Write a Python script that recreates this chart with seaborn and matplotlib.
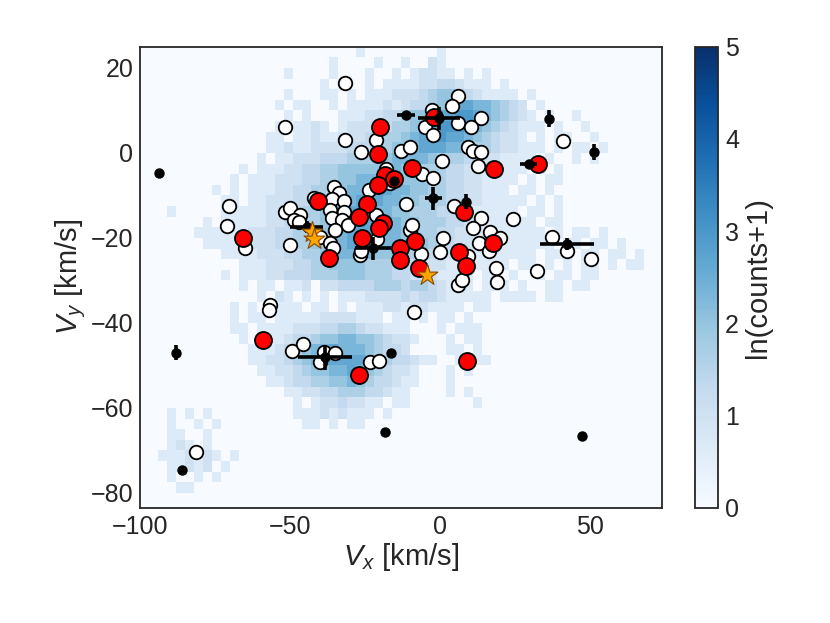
import matplotlib
matplotlib.use("Agg")
import matplotlib.pyplot as plt
import numpy as np
import pandas as pd
import seaborn as sns

# background density: one entry per row of bins (top row vy 22.5..25, 2.5 km/s tall),
# each segment = (first column, digits); column c covers vx -100+3c .. -97+3c
# digit d -> ln(counts+1) = d * level_step, "." = empty
level_step = 0.33
n_cols = 58
hist_rows = [
    [(24, "2"), (33, "2")],
    [(21, "2"), (26, "2"), (29, "2"), (32, "32")],
    [(16, "2"), (21, "2"), (25, "2"), (28, "2.23322.2.2")],
    [(20, "2.2"), (25, "2.22"), (29, "2233443222.2")],
    [(16, "2"), (20, "22.2"), (25, "22233"), (30, "345665432222"), (43, "2")],
    [(15, "2.22"), (21, "2.22"), (25, "223234456788776543"), (44, "2")],
    [(16, "2.2"), (22, "2223344566788998765432.2"), (48, "2")],
    [(15, "2.2232"), (22, "23334455678999876543222.2"), (49, "2")],
    [(14, "22.2232"), (21, "2333445567889887654332"), (44, "2.22"), (50, "2")],
    [(14, "2232233"), (21, "3344455667888776554332"), (43, "22.2.22.2")],
    [(13, "2.2233344"), (22, "455566777765554433222"), (43, "2.2..2.2")],
    [(11, "2.22233445"), (21, "566666776655544332222"), (42, "2.2.2")],
    [(10, "2.2223334455"), (22, "667777766655443322"), (40, "22.2.22")],
    [(8, "2.2.22233445566"), (23, "77788776655443322"), (40, "2.22.2")],
    [(9, "22.22333445667"), (23, "78887766555443322"), (40, "222.2.2")],
    [(3, "2"), (9, "2222233445567"), (22, "788877665554433222"), (40, "22.22.2")],
    [(7, "2.222223344556"), (21, "7889887766555443322"), (40, "2222.22")],
    [(6, "22222233344556"), (20, "67788877766554433222"), (40, "22222.2.22.2")],
    [(7, "2222233344556"), (20, "67788877766654433322"), (40, "222222.22.22.2")],
    [(9, "22223334455"), (20, "667777666555443322"), (38, "222222.222.22.22.2")],
    [(11, "22233344"), (19, "556666555444333222"), (37, "2222.22.2.2.22.2.22")],
    [(9, "2.2223344"), (18, "45556665554433322"), (35, "22.22.2..2.22.22")],
    [(11, "2.22.223"), (20, "33444455545543222"), (38, "222.2..22.22")],
    [(13, "2.32.2.2"), (22, "2223333434432222"), (38, "2.2222.22")],
    [(10, "2.2.2222.22"), (22, "2.222332332222.22")],
    [(10, "2.22.2222233"), (22, "33222.22.2.22.2")],
    [(10, "22.2222333445"), (23, "5433222"), (33, "2.222")],
    [(11, "2.2223445667"), (23, "76654332"), (34, "2.22")],
    [(12, "22234567787"), (23, "7765443"), (34, "22.2")],
    [(12, "2233456788"), (22, "88876544322"), (35, "2.22")],
    [(13, "223345667"), (22, "787654332"), (34, "2.2")],
    [(14, "22344556"), (22, "676544322"), (34, "2")],
    [(16, "2233445"), (23, "5544322"), (34, "2.2")],
    [(17, "2.233433"), (25, "22.22"), (37, "2")],
    [(3, "2.2"), (7, "2"), (17, "2223232"), (24, "22.2")],
    [(3, "2"), (6, "2.2"), (18, "22.2.22")],
    [(3, "22"), (7, "2")],
    [(3, "232"), (7, "2")],
    [(2, "2223232.2")],
    [(3, "22323"), (9, "2")],
    [(3, "2"), (6, "2.2")],
    [(4, "22")],
    [],
    [],
]

white_vx = [-31.7, -51.7, -31.7, -26.3, -21.4, -13.0, -10.0, -23.9, -18.0, -16.7,
            -70.4, -71.2, -65.0, -51.7, -50.0, -46.7, -48.9, -47.2, -42.2, -35.4,
            -33.6, -36.1, -32.2, -36.9, -32.2, -36.1, -32.8, -35.0, -30.6, -40.0,
            -50.0, -36.8, -35.6, -21.4, -21.1, -26.6, -26.3, 0.6, -6.1, -2.3,
            -11.3, -10.0, -9.3, 0.8, -0.2, -6.5, 5.8, 3.9, -2.8, 13.6,
            5.8, 10.3, -5.0, -2.6, 9.2, 10.9, 13.7, 12.4, 40.8, 4.4,
            13.7, 24.1, 10.8, 16.4, 20.0, 12.9, 9.1, 16.1, 18.7, 32.2,
            37.1, 42.2, 50.3, 5.8, 7.2, 18.9, -8.7, -56.7, -57.2, -49.4,
            -45.6, -38.9, -35.0, -40.0, -23.6, -20.6, -81.4]
white_vy = [16.4, 6.0, 3.1, 0.3, 3.1, 0.5, 1.5, -8.8, -3.8, -7.0,
            -12.4, -17.3, -22.4, -13.8, -13.0, -14.6, -15.7, -16.2, -10.7, -8.0,
            -9.5, -10.9, -11.4, -13.4, -13.8, -15.4, -15.8, -18.1, -16.9, -19.7,
            -21.7, -21.3, -22.3, -14.6, -20.3, -24.0, -23.0, -2.0, -5.0, -5.9,
            -12.1, -18.1, -16.9, -20.1, -23.3, -23.7, 13.5, 11.1, 10.1, 8.2,
            7.0, 6.2, 6.2, 4.2, 1.3, 0.5, 0.2, -3.0, 2.7, -12.4,
            -15.2, -15.5, -17.6, -18.5, -20.1, -21.1, -24.2, -23.1, -27.0, -27.7,
            -19.8, -23.1, -24.9, -31.1, -29.9, -30.3, -37.4, -35.8, -36.9, -46.6,
            -44.9, -46.8, -47.1, -49.1, -49.1, -48.9, -70.3]

red_vx = [-20.0, -20.8, -18.6, -15.3, -20.9, -24.5, -40.6, -27.1, -19.2, -20.6,
          -26.1, -65.9, -37.2, -13.3, -13.5, -9.6, -8.3, -7.1, -2.2, 32.4,
          17.8, 7.8, 6.3, 8.7, 17.6, 8.9, -59.2, -27.2]
red_vy = [6.0, -0.3, -5.2, -6.2, -7.5, -12.1, -11.3, -15.0, -16.5, -17.6,
          -20.0, -20.0, -24.8, -22.4, -25.1, -3.5, -20.8, -27.0, 8.5, -2.6,
          -3.8, -13.8, -23.2, -26.7, -21.1, -48.9, -44.0, -52.2]

black_vx = [-93.9, -15.3, -44.5, -22.3, -2.3, -11.3, -0.6, 36.3, 51.1, 29.4,
            8.4, 42.2, -38.3, -16.4, -18.3, 47.2, -88.0, -86.1]
black_vy = [-4.7, -6.5, -17.4, -22.4, -10.7, 8.9, 8.2, 8.0, 0.2, -2.7,
            -11.5, -21.4, -48.1, -47.0, -65.7, -66.6, -47.0, -74.6]
black_xerr = [0, 0, 5.5, 6.0, 2.8, 3.0, 7.0, 0.8, 0.6, 2.8,
              0.8, 9.0, 9.0, 1.2, 0, 0, 0.7, 1.0]
black_yerr = [0, 0, 1.5, 2.7, 2.7, 0.5, 2.7, 2.0, 1.8, 0.5,
              1.8, 1.5, 2.9, 0.5, 0, 0, 1.8, 0.5]

star_vx = [-42.8, -42.2, -4.5]
star_vy = [-18.6, -20.3, -28.8]


def density_grid():
    grid = np.zeros((len(hist_rows), n_cols))
    for j, segs in enumerate(hist_rows):
        for start, digits in segs:
            for k, ch in enumerate(digits):
                if ch != ".":
                    grid[j, start + k] = int(ch) * level_step
    return grid


def main():
    sns.set_theme(style="white")
    plt.rcParams['font.family'] = ['Liberation Sans', 'DejaVu Sans']
    plt.rcParams['mathtext.fontset'] = 'custom'
    plt.rcParams['mathtext.rm'] = 'Liberation Sans'
    plt.rcParams['mathtext.it'] = 'Liberation Sans:italic'
    plt.rcParams['axes.edgecolor'] = '#262626'
    plt.rcParams['axes.linewidth'] = 1.3

    fig = plt.figure(figsize=(8.3, 6.23), dpi=100)
    ax = fig.add_axes([0.169, 0.185, 0.629, 0.740])
    cax = fig.add_axes([0.837, 0.185, 0.028, 0.740])

    grid = density_grid()
    x_edges = -100 + 3 * np.arange(n_cols + 1)
    y_edges = 25 - 2.5 * np.arange(len(hist_rows) + 1)
    mesh = ax.pcolormesh(x_edges, y_edges, grid, cmap='Blues', vmin=0, vmax=5,
                         zorder=0)

    white = pd.DataFrame({'vx': white_vx, 'vy': white_vy})
    red = pd.DataFrame({'vx': red_vx, 'vy': red_vy})
    stars = pd.DataFrame({'vx': star_vx, 'vy': star_vy})

    sns.scatterplot(data=white, x='vx', y='vy', ax=ax, s=95, color='white',
                    edgecolor='black', linewidth=1.3, zorder=2)
    sns.scatterplot(data=red, x='vx', y='vy', ax=ax, s=150, color='red',
                    edgecolor='black', linewidth=1.3, zorder=3)
    ax.errorbar(black_vx, black_vy, xerr=black_xerr, yerr=black_yerr, fmt='o',
                color='black', ms=6.5, elinewidth=2.6, capsize=0, zorder=4)
    sns.scatterplot(data=stars, x='vx', y='vy', ax=ax, marker='*', s=250,
                    color='orange', edgecolor='#8a4b00', linewidth=0.8, zorder=5)

    ax.set_xlim(-100, 74)
    ax.set_ylim(-83.5, 25)
    ax.set_xticks([-100, -50, 0, 50])
    ax.set_yticks([-80, -60, -40, -20, 0, 20])
    ax.tick_params(labelsize=18, length=0, pad=5)
    ax.set_xlabel('$V_x$ [km/s]', fontsize=21, labelpad=2)
    ax.set_ylabel('$V_y$ [km/s]', fontsize=21, labelpad=2)

    cb = fig.colorbar(mesh, cax=cax)
    cb.set_ticks([0, 1, 2, 3, 4, 5])
    cb.ax.tick_params(labelsize=18, length=0, pad=5)
    cb.set_label('ln(counts+1)', fontsize=21, labelpad=4)
    cb.outline.set_edgecolor('#262626')
    cb.outline.set_linewidth(1.3)

    fig.savefig('out.png', dpi=100)


if __name__ == '__main__':
    main()
